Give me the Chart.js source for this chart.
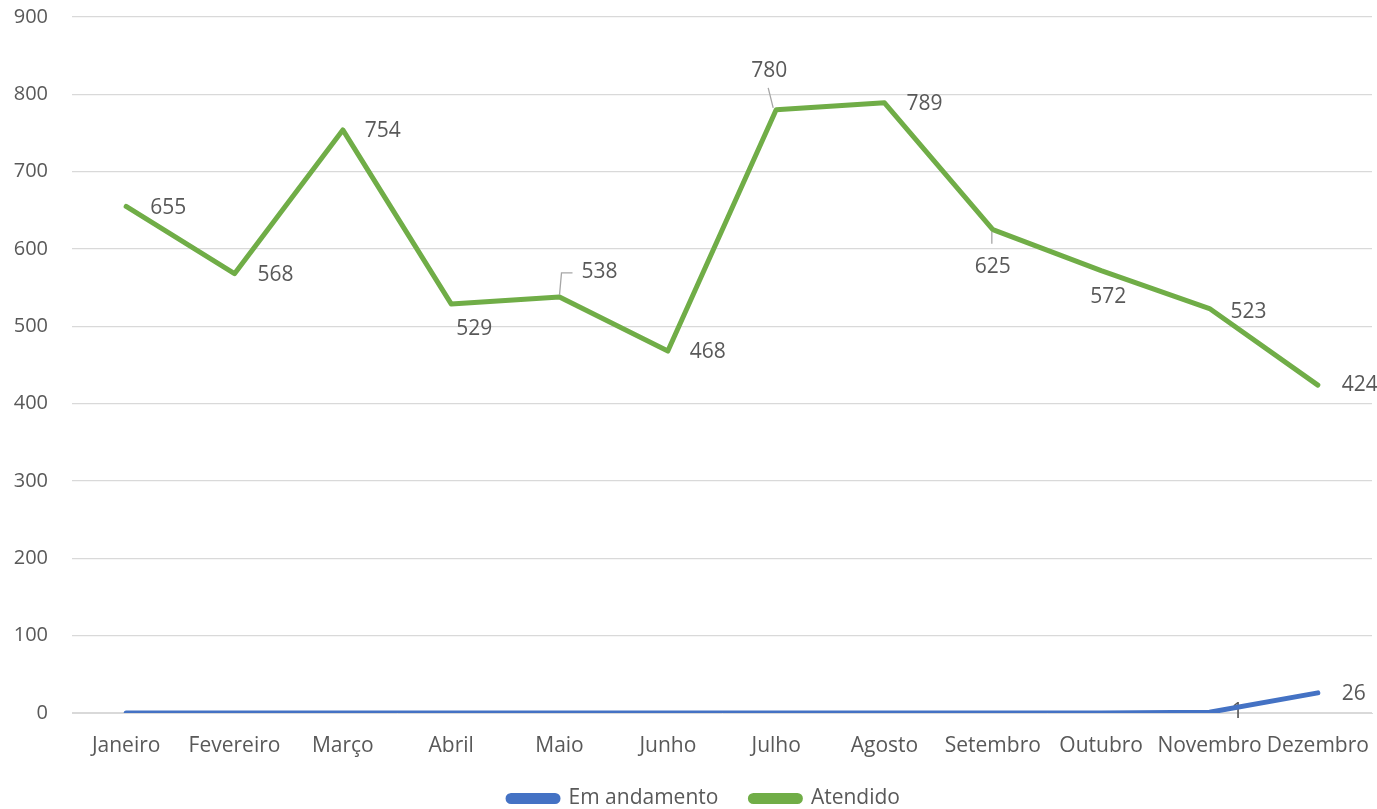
<!DOCTYPE html>
<html lang="pt">
<head>
<meta charset="UTF-8">
<title>Atendimentos por mês</title>
<script src="https://cdn.jsdelivr.net/npm/chart.js"></script>
<style>
  html, body { margin: 0; padding: 0; background: #fff; }
  #wrap { width: 1377px; height: 809px; position: relative; }
</style>
</head>
<body>
<div id="wrap"><canvas id="chart"></canvas></div>
<script>
const months = ['Janeiro', 'Fevereiro', 'Março', 'Abril', 'Maio', 'Junho', 'Julho', 'Agosto', 'Setembro', 'Outubro', 'Novembro', 'Dezembro'];
const emAndamento = [0, 0, 0, 0, 0, 0, 0, 0, 0, 0, 1, 26];
const atendido = [655, 568, 754, 529, 538, 468, 780, 789, 625, 572, 523, 424];
const yTicks = [0, 100, 200, 300, 400, 500, 600, 700, 800, 900];

// where each value label sits, relative to its point (null = no label)
const blueLabelPos = [null, null, null, null, null, null, null, null, null, null, [28, 0], [36, 1]];
const greenLabelPos = [[42, 2], [41, 1], [40, 1], [23, 25], [40, -25], [40, 1], [-7, -39], [40, 1], [0, 37], [7, 26], [39, 3], [42, 0]];
const leaders = { 4: true, 6: true, 8: true };

const textColor = '#595959';
const font = "'Open Sans', 'Liberation Sans', sans-serif";

function drawLabels(chart, di) {
  const ctx = chart.ctx;
  const ds = chart.data.datasets[di];
  const meta = chart.getDatasetMeta(di);
  const pos = di === 0 ? blueLabelPos : greenLabelPos;
  ctx.save();
  ctx.font = '21px ' + font;
  ctx.fillStyle = textColor;
  ctx.textAlign = 'center';
  ctx.textBaseline = 'middle';
  meta.data.forEach((pt, i) => {
    const p = pos[i];
    if (!p) return;
    const lx = pt.x + p[0], ly = pt.y + p[1];
    if (di === 1 && leaders[i]) {
      ctx.strokeStyle = '#a6a6a6';
      ctx.lineWidth = 1.3;
      ctx.beginPath();
      if (i === 4) {
        ctx.moveTo(pt.x, pt.y - 2);
        ctx.lineTo(pt.x + 2, ly + 1);
        ctx.lineTo(pt.x + 13, ly + 1);
      } else if (i === 6) {
        ctx.moveTo(pt.x - 3, pt.y - 2);
        ctx.lineTo(pt.x - 8, pt.y - 22);
      } else {
        ctx.moveTo(pt.x - 1, pt.y + 2);
        ctx.lineTo(pt.x - 1, pt.y + 14);
      }
      ctx.stroke();
    }
    ctx.fillText(String(ds.data[i]), lx, ly);
  });
  ctx.restore();
}

const labelPlugin = {
  id: 'valueLabels',
  afterLayout(chart) {
    // nudge the legend down and right
    chart.legend.top += 10;
    chart.legend.bottom += 10;
    chart.legend.left += 18;
    chart.legend.right += 18;
    // let the month labels spill below the small x box without clipping
    chart.scales.x.bottom += 30;
  },
  beforeDatasetsDraw(chart) { drawLabels(chart, 0); },
  afterDatasetsDraw(chart) { drawLabels(chart, 1); }
};

new Chart(document.getElementById('chart'), {
  type: 'line',
  data: {
    labels: months,
    datasets: [
      { label: 'Em andamento', data: emAndamento, borderColor: '#4472C4', backgroundColor: '#4472C4', borderWidth: 5, pointRadius: 0, tension: 0, borderCapStyle: 'round', borderJoinStyle: 'round' },
      { label: 'Atendido', data: atendido, borderColor: '#70AD47', backgroundColor: '#70AD47', borderWidth: 5, pointRadius: 0, tension: 0, borderCapStyle: 'round', borderJoinStyle: 'round' }
    ]
  },
  options: {
    responsive: true,
    maintainAspectRatio: false,
    animation: false,
    layout: { padding: { top: 0, right: 5, left: 0, bottom: 0 } },
    plugins: {
      legend: {
        position: 'bottom',
        labels: {
          color: textColor,
          font: { size: 21, family: font },
          boxWidth: 50,
          boxHeight: 6,
          useBorderRadius: true,
          borderRadius: 3,
          padding: 32
        }
      },
      tooltip: { enabled: false }
    },
    scales: {
      x: {
        offset: true,
        grid: { display: false, drawTicks: false },
        border: { display: true, color: '#d9d9d9' },
        ticks: { color: textColor, font: { size: 21, family: font }, padding: 20, maxRotation: 0, autoSkip: false },
        afterFit(scale) { scale.height = 33; scale.paddingLeft = 0; scale.paddingRight = 0; }
      },
      y: {
        min: 0,
        max: 900,
        afterBuildTicks(scale) { scale.ticks = yTicks.map(v => ({ value: v })); },
        grid: { color: '#d9d9d9', lineWidth: 1.3, drawTicks: false },
        border: { display: false },
        ticks: { color: textColor, font: { size: 20, family: font }, padding: 24 },
        afterFit(scale) { scale.width = 72; scale.paddingTop = 17; scale.paddingBottom = 0; }
      }
    }
  },
  plugins: [labelPlugin]
});
</script>
</body>
</html>
